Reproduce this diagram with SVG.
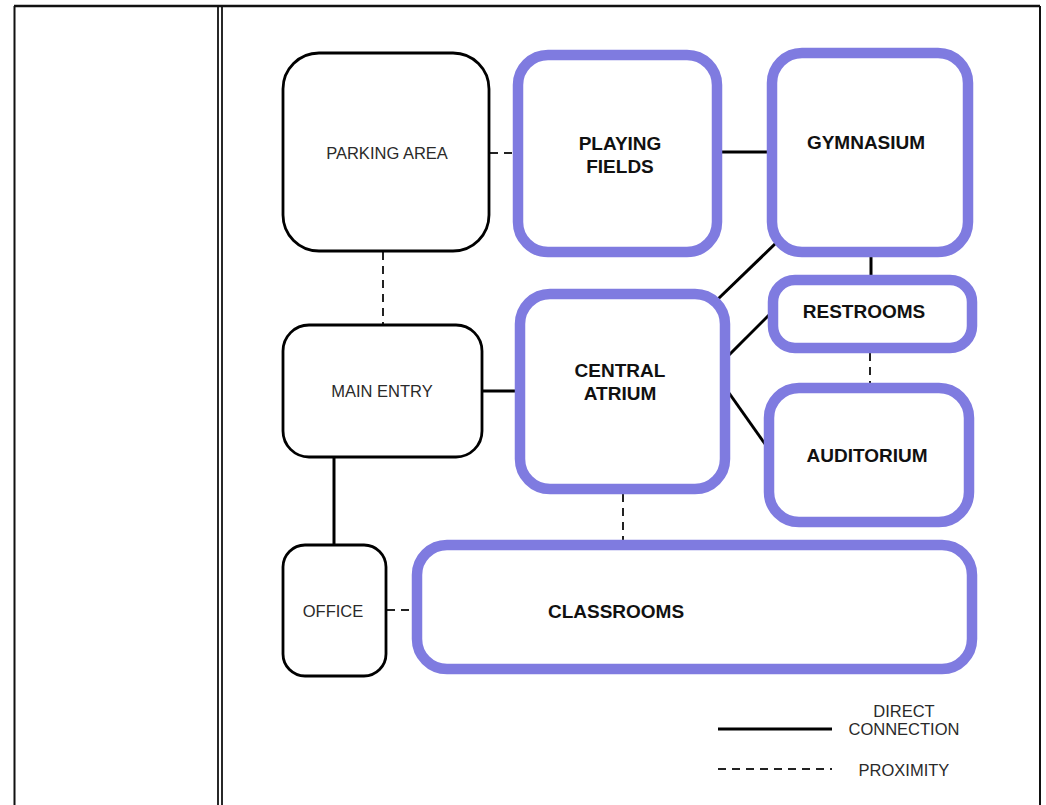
<svg xmlns="http://www.w3.org/2000/svg" width="1046" height="805" viewBox="0 0 1046 805">
<style>
.frame{fill:none;stroke:#111;stroke-width:2}
.nb{fill:#fff;stroke:#000;stroke-width:2.8}
.np{fill:#fff;stroke:#7f7be0;stroke-width:10.5}
.solid{stroke:#000;stroke-width:3;fill:none}
.dash{stroke:#222;stroke-width:2;fill:none;stroke-dasharray:8 6}
.tr{font-family:"Liberation Sans",Arial,sans-serif;font-size:16.5px;fill:#2a2a2a;text-anchor:middle}
.tb{font-family:"Liberation Sans",Arial,sans-serif;font-size:19px;font-weight:bold;fill:#111;text-anchor:middle}
</style>
<rect width="1046" height="805" fill="#fff"/>
<g id="frame">
<line class="frame" x1="14" y1="6" x2="1040" y2="6" style="stroke-width:2.5"/>
<line class="frame" x1="14.5" y1="6" x2="14.5" y2="805"/>
<line class="frame" x1="218" y1="6" x2="218" y2="805" style="stroke-width:1.8"/>
<line class="frame" x1="222" y1="6" x2="222" y2="805" style="stroke-width:1.8"/>
<line class="frame" x1="1040" y1="6" x2="1040" y2="805"/>
</g>
<g id="connectors">
<line class="dash" x1="490" y1="153" x2="514" y2="153"/>
<line class="solid" x1="722" y1="152" x2="768" y2="152"/>
<line class="dash" x1="383" y1="252" x2="383" y2="325"/>
<line class="solid" x1="483" y1="391" x2="516" y2="391"/>
<line class="solid" x1="334" y1="458" x2="334" y2="545"/>
<line class="dash" x1="387" y1="610" x2="413" y2="610"/>
<line class="dash" x1="623" y1="494" x2="623" y2="541"/>
<line class="solid" x1="871" y1="256" x2="871" y2="276"/>
<line class="dash" x1="870" y1="353" x2="870" y2="384"/>
<line class="solid" x1="718" y1="299" x2="777" y2="242"/>
<line class="solid" x1="729" y1="355" x2="769" y2="315"/>
<line class="solid" x1="729" y1="393" x2="765" y2="444"/>
</g>
<g id="parking">
<rect class="nb" x="283" y="53" width="206" height="198" rx="36"/>
<text class="tr" x="387" y="159">PARKING AREA</text>
</g>
<g id="playing-fields">
<rect class="np" x="518" y="55" width="199" height="197" rx="30"/>
<text class="tb" x="620" y="150">PLAYING</text>
<text class="tb" x="620" y="173">FIELDS</text>
</g>
<g id="gymnasium">
<rect class="np" x="772" y="53" width="196" height="199" rx="30"/>
<text class="tb" x="866" y="149">GYMNASIUM</text>
</g>
<g id="restrooms">
<rect class="np" x="773" y="280" width="199" height="68" rx="22"/>
<text class="tb" x="864" y="318">RESTROOMS</text>
</g>
<g id="main-entry">
<rect class="nb" x="283" y="325" width="199" height="132" rx="26"/>
<text class="tr" x="382" y="397">MAIN ENTRY</text>
</g>
<g id="central-atrium">
<rect class="np" x="520" y="294" width="205" height="195" rx="30"/>
<text class="tb" x="620" y="377">CENTRAL</text>
<text class="tb" x="620" y="400">ATRIUM</text>
</g>
<g id="auditorium">
<rect class="np" x="769" y="388" width="200" height="134" rx="30"/>
<text class="tb" x="867" y="462">AUDITORIUM</text>
</g>
<g id="office">
<rect class="nb" x="283" y="545" width="103" height="131" rx="22"/>
<text class="tr" x="333" y="617">OFFICE</text>
</g>
<g id="classrooms">
<rect class="np" x="417" y="545" width="555" height="124" rx="30"/>
<text class="tb" x="616" y="618">CLASSROOMS</text>
</g>
<g id="legend">
<line class="solid" x1="718" y1="729" x2="832" y2="729"/>
<text class="tr" x="904" y="717">DIRECT</text>
<text class="tr" x="904" y="735">CONNECTION</text>
<line class="dash" x1="718" y1="769" x2="832" y2="769"/>
<text class="tr" x="904" y="776">PROXIMITY</text>
</g>
</svg>
